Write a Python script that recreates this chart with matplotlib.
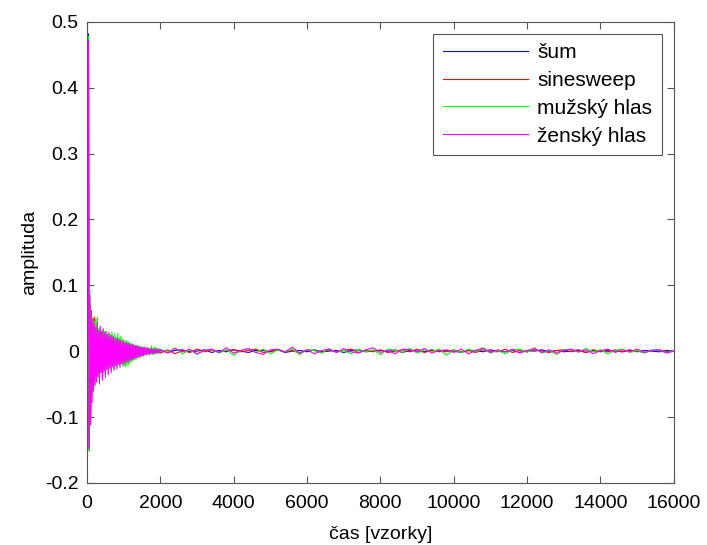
import matplotlib.pyplot as plt
import numpy as np

plt.rcParams['font.family'] = ['Liberation Sans', 'DejaVu Sans']

# casove okamziky (vzorky): husteji na zacatku, pak ridce
cas = np.concatenate([np.arange(0, 2000, 20), np.arange(2000, 16001, 200)])

# impulsni odezvy
sum_ir = [
    0.000, 0.010, 0.482, -0.132, 0.070, -0.095, 0.055, -0.060, 0.042, -0.050,
    0.035, -0.040, 0.030, -0.038, 0.033, -0.030, 0.026, -0.036, 0.028, -0.025,
    0.024, -0.032, 0.026, -0.022, 0.021, -0.028, 0.022, -0.020, 0.019, -0.025,
    0.020, -0.018, 0.017, -0.022, 0.018, -0.016, 0.015, -0.019, 0.015, -0.015,
    0.014, -0.017, 0.013, -0.014, 0.012, -0.015, 0.012, -0.012, 0.011, -0.013,
    0.010, -0.011, 0.010, -0.011, 0.009, -0.010, 0.009, -0.010, 0.008, -0.009,
    0.008, -0.009, 0.007, -0.008, 0.007, -0.007, 0.006, -0.007, 0.006, -0.006,
    0.005, -0.006, 0.005, -0.005, 0.004, -0.005, 0.004, -0.004, 0.004, -0.004,
    0.003, -0.004, 0.003, -0.003, 0.003, -0.003, 0.002, -0.003, 0.003, -0.002,
    0.002, -0.003, 0.002, -0.002, 0.002, -0.002, 0.002, -0.002, 0.001, -0.001,
    0.001, -0.002, 0.001, 0.002, -0.001, 0.000, 0.002, -0.002, 0.001, -0.001,
    0.002, 0.000, -0.002, 0.001, 0.001, -0.001, 0.002, -0.002, 0.000, 0.001,
    -0.001, 0.002, -0.001, 0.000, 0.001, -0.002, 0.001, 0.002, -0.001, 0.000,
    0.001, -0.001, 0.002, -0.002, 0.001, 0.000, -0.001, 0.002, -0.001, 0.001,
    0.000, -0.002, 0.001, 0.001, -0.001, 0.002, 0.000, -0.001, 0.001, -0.002,
    0.001, 0.000, 0.002, -0.001, 0.001, -0.001, 0.000, 0.002, -0.002, 0.001,
    -0.001, 0.001, 0.000, -0.001, 0.002, -0.001, 0.001, 0.000, -0.001, 0.001,
    0.000,
]

sinesweep_ir = [
    0.000, 0.011, 0.470, -0.125, 0.072, -0.090, 0.058, -0.055, 0.050, -0.046,
    0.052, -0.038, 0.031, -0.040, 0.034, -0.029, 0.027, -0.034, 0.029, -0.024,
    0.025, -0.030, 0.027, -0.021, 0.022, -0.027, 0.023, -0.019, 0.020, -0.024,
    0.021, -0.017, 0.018, -0.021, 0.019, -0.015, 0.016, -0.018, 0.016, -0.014,
    0.015, -0.016, 0.014, -0.013, 0.013, -0.014, 0.013, -0.011, 0.012, -0.012,
    0.011, -0.010, 0.011, -0.010, 0.010, -0.009, 0.010, -0.009, 0.009, -0.008,
    0.009, -0.008, 0.008, -0.007, 0.008, -0.006, 0.007, -0.006, 0.007, -0.005,
    0.006, -0.005, 0.006, -0.004, 0.005, -0.004, 0.005, -0.003, 0.006, -0.003,
    0.004, -0.003, 0.005, -0.002, 0.004, -0.003, 0.003, -0.002, 0.004, -0.002,
    0.003, -0.002, 0.003, -0.001, 0.002, -0.002, 0.003, -0.001, 0.002, -0.001,
    -0.003, 0.002, -0.004, 0.001, -0.002, 0.003, -0.001, 0.002, -0.002, 0.001,
    0.002, -0.001, 0.001, 0.003, -0.002, 0.000, 0.002, -0.001, 0.001, -0.003,
    0.002, 0.001, -0.002, 0.002, -0.001, 0.001, 0.003, -0.002, 0.001, -0.001,
    0.002, -0.002, 0.000, 0.002, -0.001, 0.003, -0.002, 0.001, 0.000, -0.001,
    0.002, -0.001, 0.001, -0.002, 0.002, 0.000, -0.001, 0.003, -0.002, 0.001,
    -0.001, 0.002, 0.000, -0.002, 0.001, 0.002, -0.001, 0.001, -0.002, 0.002,
    0.000, -0.001, 0.002, -0.001, 0.001, 0.000, -0.002, 0.001, 0.002, -0.001,
    0.000,
]

muzsky_ir = [
    0.000, 0.013, 0.478, -0.152, 0.094, -0.100, 0.060, -0.065, 0.050, -0.055,
    0.045, -0.048, 0.049, -0.042, 0.052, -0.036, 0.034, -0.046, 0.036, -0.030,
    0.031, -0.040, 0.033, -0.028, 0.030, -0.036, 0.029, -0.025, 0.026, -0.032,
    0.027, -0.023, 0.025, -0.030, 0.029, -0.022, 0.023, -0.027, 0.026, -0.020,
    0.021, -0.025, 0.027, -0.019, 0.020, -0.024, 0.022, -0.018, 0.018, -0.023,
    0.017, -0.022, 0.016, -0.024, 0.015, -0.020, 0.014, -0.021, 0.013, -0.017,
    0.012, -0.015, 0.011, -0.014, 0.010, -0.013, 0.009, -0.012, 0.009, -0.010,
    0.008, -0.010, 0.007, -0.009, 0.007, -0.008, 0.006, -0.007, 0.006, -0.006,
    0.005, -0.006, 0.006, -0.005, 0.004, -0.006, 0.005, -0.004, 0.008, -0.005,
    0.004, -0.005, 0.006, -0.004, 0.005, -0.004, 0.003, -0.003, 0.004, -0.003,
    0.003, -0.002, 0.005, -0.004, 0.002, -0.005, 0.001, 0.003, -0.003, 0.002,
    -0.006, 0.001, 0.004, -0.002, 0.003, -0.004, 0.002, -0.001, 0.003, -0.005,
    0.002, 0.001, -0.003, 0.004, -0.002, 0.001, -0.004, 0.003, -0.001, 0.002,
    -0.005, 0.003, 0.001, -0.002, 0.004, -0.003, 0.002, -0.001, 0.003, -0.006,
    0.002, -0.002, 0.003, -0.001, 0.004, -0.003, 0.001, -0.004, 0.002, 0.003,
    -0.002, 0.005, -0.003, 0.001, -0.005, 0.002, 0.003, -0.002, 0.004, -0.001,
    0.002, -0.004, 0.001, 0.003, -0.002, 0.001, -0.003, 0.002, 0.001, -0.002,
    0.000,
]

zensky_ir = [
    0.000, 0.012, 0.472, -0.148, 0.085, -0.112, 0.062, -0.078, 0.048, -0.061,
    0.041, -0.052, 0.036, -0.047, 0.044, -0.039, 0.031, -0.050, 0.038, -0.033,
    0.029, -0.044, 0.034, -0.031, 0.027, -0.040, 0.030, -0.028, 0.025, -0.036,
    0.028, -0.026, 0.022, -0.033, 0.024, -0.024, 0.021, -0.029, 0.020, -0.022,
    0.018, -0.027, 0.019, -0.020, 0.017, -0.024, 0.016, -0.019, 0.015, -0.021,
    0.014, -0.017, 0.013, -0.018, 0.012, -0.015, 0.012, -0.016, 0.011, -0.013,
    0.010, -0.014, 0.010, -0.012, 0.009, -0.011, 0.008, -0.010, 0.008, -0.009,
    0.007, -0.009, 0.006, -0.008, 0.006, -0.007, 0.005, -0.007, 0.006, -0.005,
    0.004, -0.006, 0.005, -0.004, 0.004, -0.005, 0.003, -0.004, 0.004, -0.003,
    0.003, -0.004, 0.002, -0.003, 0.004, -0.002, 0.003, -0.003, 0.002, -0.002,
    0.002, -0.003, 0.004, -0.001, 0.003, -0.004, 0.001, 0.003, -0.002, 0.005,
    -0.003, 0.001, 0.004, -0.002, -0.005, 0.002, 0.003, -0.001, 0.006, -0.003,
    0.002, -0.004, 0.001, 0.003, -0.002, 0.004, -0.001, -0.003, 0.002, 0.005,
    -0.002, 0.001, -0.004, 0.003, 0.002, -0.001, 0.004, -0.003, 0.001, 0.002,
    -0.002, 0.003, -0.004, 0.001, 0.005, -0.002, 0.002, -0.001, 0.003, -0.003,
    0.001, 0.004, -0.002, 0.002, -0.003, 0.001, 0.003, -0.001, 0.002, -0.004,
    0.001, 0.003, -0.002, 0.002, -0.001, 0.003, -0.002, 0.001, 0.002, -0.003,
    0.000,
]

nazvy = ['šum', 'sinesweep', 'mužský hlas', 'ženský hlas']
barvy = ['#0000ff', '#ff0000', '#00ff00', '#ff00ff']

fig = plt.figure(figsize=(7.07, 5.45), dpi=100)
ax = fig.add_axes([0.123, 0.114, 0.830, 0.846])

for y, nazev, barva in zip([sum_ir, sinesweep_ir, muzsky_ir, zensky_ir], nazvy, barvy):
    ax.plot(cas, y, color=barva, lw=0.8, label=nazev)

ax.set_xlim(0, 16000)
ax.set_ylim(-0.2, 0.5)
ax.set_xticks(np.arange(0, 16001, 2000))
ax.set_yticks(np.arange(-0.2, 0.51, 0.1))
ax.set_yticklabels(['-0.2', '-0.1', '0', '0.1', '0.2', '0.3', '0.4', '0.5'])
ax.tick_params(direction='in', top=True, right=True, labelsize=14,
               length=5, color='#555555')
ax.tick_params(axis='x', pad=9)
ax.tick_params(axis='y', pad=6)
for s in ax.spines.values():
    s.set_color('#555555')

ax.set_xlabel('čas [vzorky]', fontsize=14, labelpad=10)
ax.set_ylabel('amplituda', fontsize=14, labelpad=5)

leg = ax.legend(loc='upper right', fontsize=15, fancybox=False, framealpha=1,
                edgecolor='#555555', handlelength=4.1, handletextpad=0.45,
                borderaxespad=0.58, labelspacing=0.42, borderpad=0.45)
leg.get_frame().set_linewidth(0.8)

fig.savefig('out.png', dpi=100)
